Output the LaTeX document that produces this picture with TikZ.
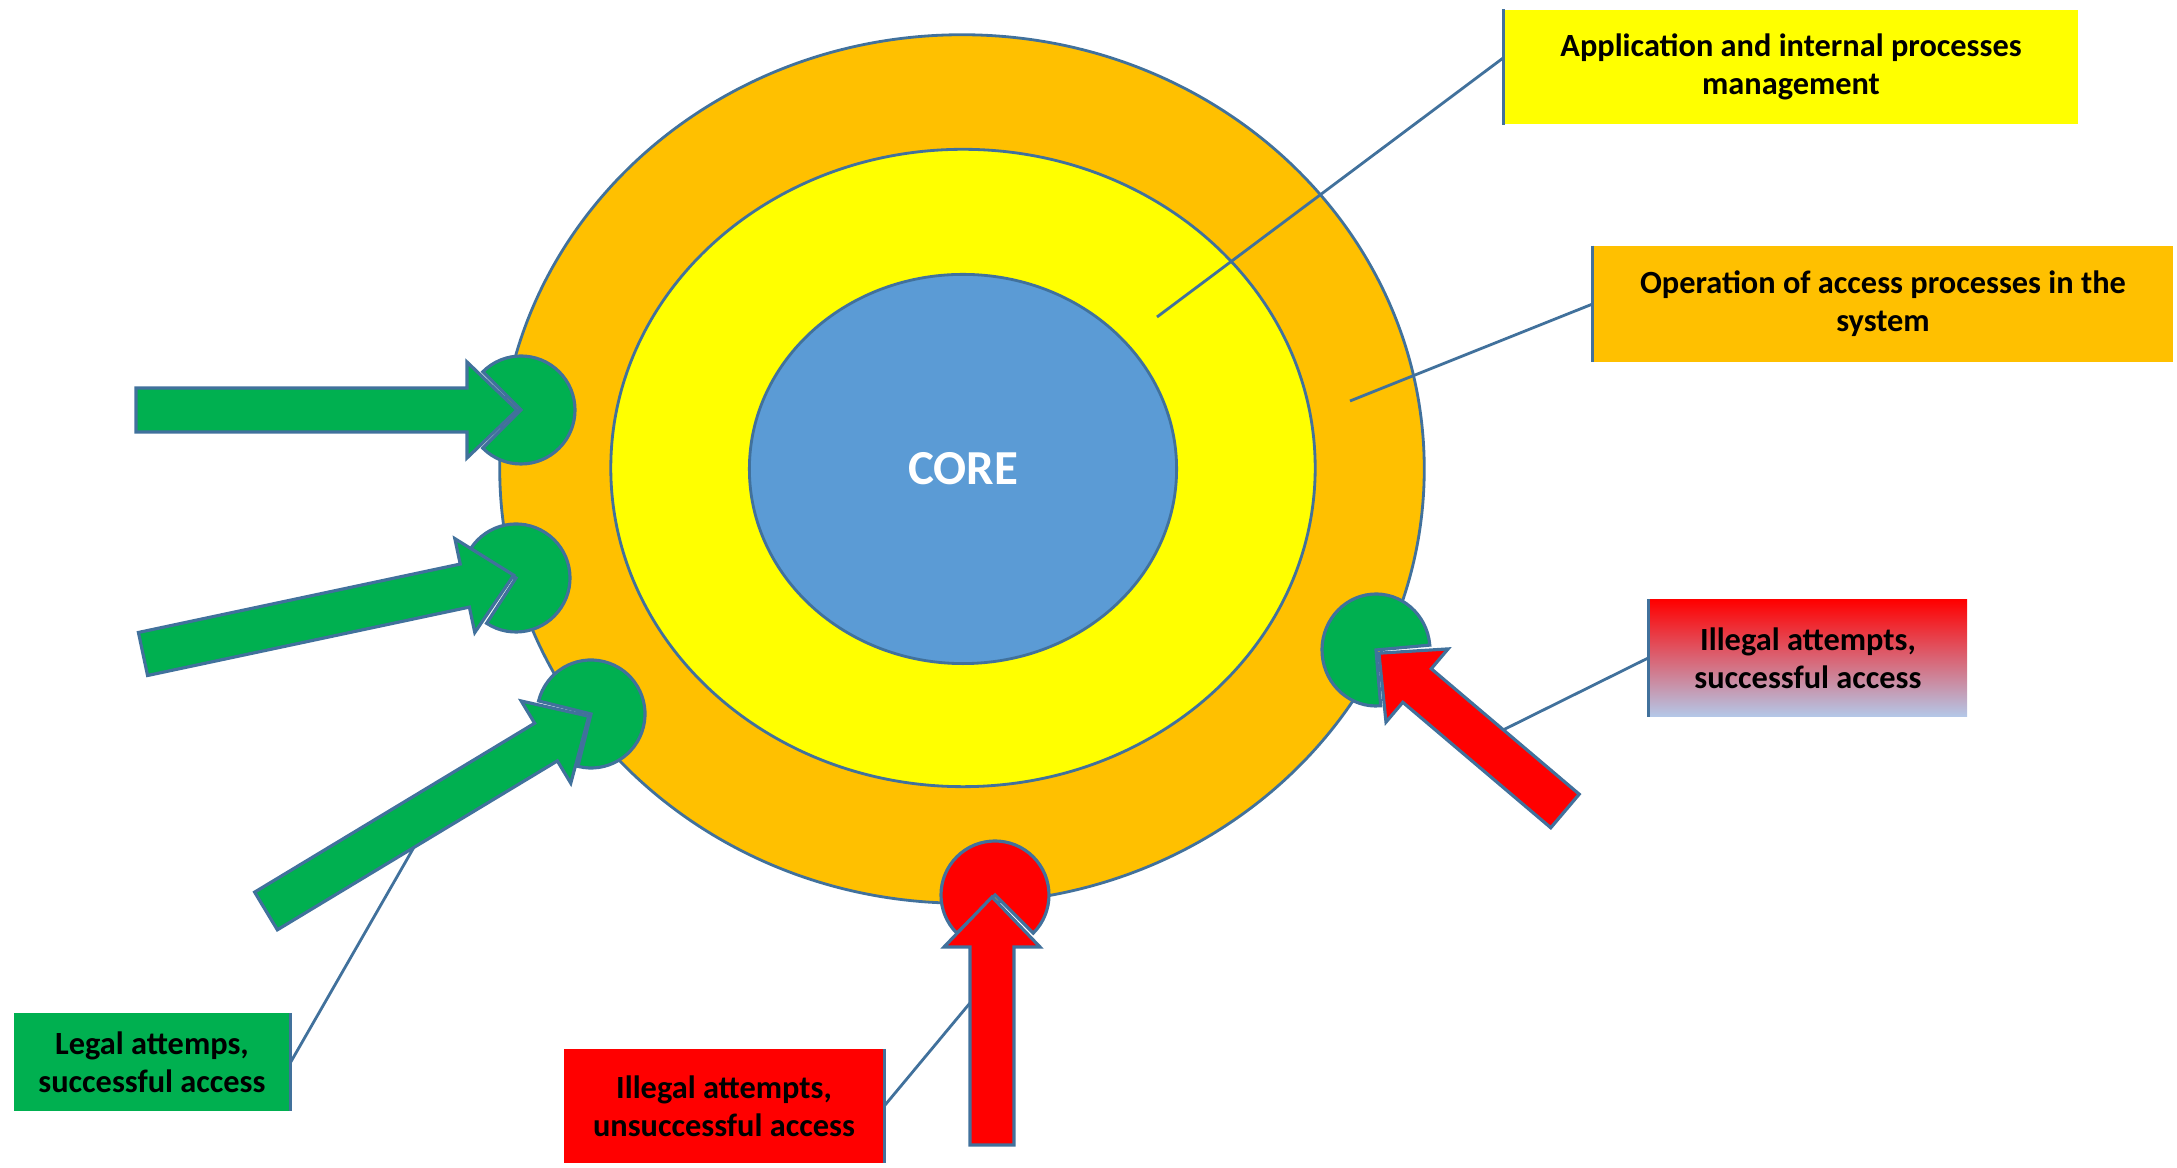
\documentclass[tikz,border=0pt]{standalone}
\usepackage{fontspec}
\setmainfont{Carlito}
\usetikzlibrary{shapes.geometric,calc}
\definecolor{ringorange}{HTML}{FFC000}
\definecolor{ringyellow}{HTML}{FFFF00}
\definecolor{coreblue}{HTML}{5B9BD5}
\definecolor{okgreen}{HTML}{00B050}
\definecolor{badred}{HTML}{FF0000}
\definecolor{edgeblue}{HTML}{41719C}
\definecolor{paleblue}{HTML}{B4C7E7}
\tikzstyle{ring} = [ellipse, draw=edgeblue, line width=0.8pt, inner sep=0pt]
\tikzstyle{tagbox} = [rectangle, inner sep=0pt, align=center, %
font=\bfseries\fontsize{9.2}{10.9}\selectfont]
\tikzstyle{callout} = [draw=edgeblue, line width=0.8pt]
\tikzstyle{shapeline} = [draw=edgeblue, line width=0.9pt, line join=miter]
% block arrow: fill, tail, angle, length
\newcommand{\blockarrow}[4]{%
  \path[shapeline, fill=#1, shift={#2}, rotate=#3]
    (0,-22) -- ({#4-50},-22) -- ({#4-50},-48) -- (#4,0) -- ({#4-50},48)
    -- ({#4-50},22) -- (0,22) -- cycle;}
% cut circle: fill, centre, x radius, y radius, mouth direction
\newcommand{\cutdisc}[5]{%
  \path[shapeline, fill=#1] #2 -- ++({#5+45}:{#3} and {#4})
    arc[start angle={#5+45}, end angle={#5+315}, x radius=#3, y radius=#4] -- cycle;}

\begin{document}
\begin{tikzpicture}[x=0.01cm, y=0.01cm]
    \useasboundingbox (0,0) rectangle (2177,-1168);
    % rings
    \node[ring, fill=ringorange, minimum width=92.4mm, minimum height=86.8mm] (outer) at (962,-469) {};
    \node[ring, fill=ringyellow, minimum width=70.4mm, minimum height=63.7mm] (middle) at (963,-468) {};
    \node[ring, fill=coreblue, minimum width=42.7mm, minimum height=38.9mm, text=white, %
      font=\bfseries\fontsize{13.9}{16}\selectfont] (core) at (963,-469) {CORE};
    % boxes
    \node[tagbox, fill=ringyellow, minimum width=57.4mm, minimum height=11.4mm] (appbox) at (1791,-67)
      {Application and internal processes\\management};
    \node[tagbox, fill=ringorange, minimum width=57.9mm, minimum height=11.5mm] (opbox) at (1883,-304)
      {Operation of access processes in the\\system};
    \node[tagbox, top color=badred, bottom color=paleblue, minimum width=31.8mm, minimum height=11.6mm] (illsucc) at (1808,-658)
      {Illegal attempts,\\successful access};
    \node[tagbox, fill=okgreen, minimum width=27.6mm, minimum height=9.7mm] (legalbox) at (152,-1062)
      {Legal attemps,\\successful access};
    \node[tagbox, fill=badred, minimum width=31.9mm, minimum height=11.3mm] (illunsucc) at (724,-1106)
      {Illegal attempts,\\unsuccessful access};
    % callout lines
    \coordinate (append) at (1157,-317);
    \coordinate (opend) at (1350,-401);
    \coordinate (illsuccend) at (1495,-734);
    \coordinate (legalend) at (425,-828);
    \coordinate (illunsuccend) at (975,-997);
    \draw[callout] ($(appbox.west)+(0,9)$) -- (append);
    \draw[callout] (opbox.west) -- (opend);
    \draw[callout] (illsucc.west) -- (illsuccend);
    \draw[callout] (legalbox.east) -- (legalend);
    \draw[callout] (illunsucc.east) -- (illunsuccend);
    \draw[callout] (appbox.north west) -- (appbox.south west);
    \draw[callout] (opbox.north west) -- (opbox.south west);
    \draw[callout] (illsucc.north west) -- (illsucc.south west);
    \draw[callout] (legalbox.north east) -- (legalbox.south east);
    \draw[callout] (illunsucc.north east) -- (illunsucc.south east);
    % cut circles
    \cutdisc{okgreen}{(521,-410)}{54}{54}{180}
    \cutdisc{okgreen}{(516,-578)}{54}{54}{192}
    \cutdisc{okgreen}{(591,-714)}{54}{54}{211}
    \cutdisc{okgreen}{(1376,-650)}{54}{56}{320}
    \cutdisc{badred}{(995,-895)}{54}{54}{270}
    % draw arrows
    \blockarrow{okgreen}{(136,-410)}{0}{381}
    \blockarrow{okgreen}{(143,-654)}{12}{379}
    \blockarrow{okgreen}{(266,-911)}{31.1}{377}
    \blockarrow{badred}{(1565,-811)}{139.7}{244}
    \blockarrow{badred}{(992,-1145)}{90}{248}
\end{tikzpicture}
\end{document}
